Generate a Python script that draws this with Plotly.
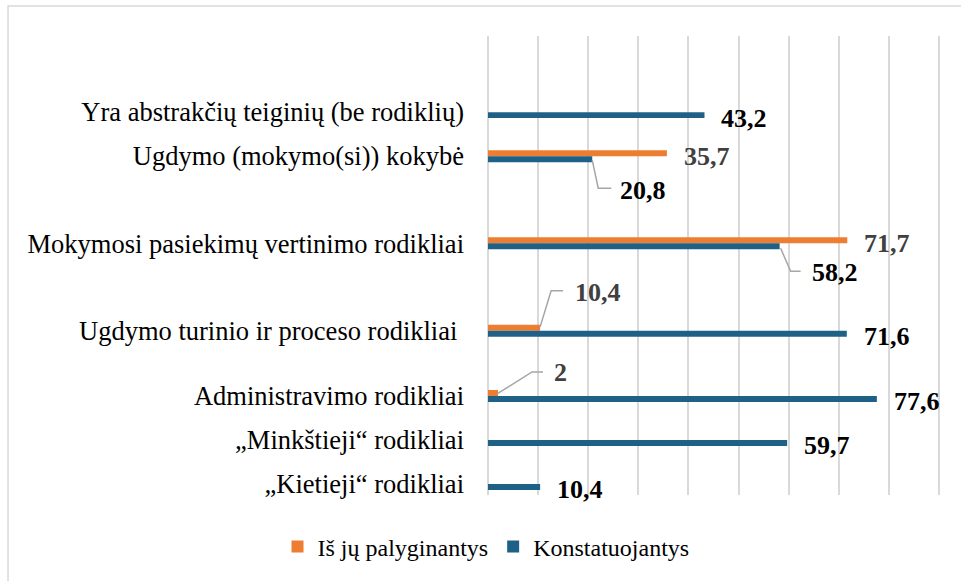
import plotly.graph_objects as go

# --- Data ---
categories = [
    "„Kietieji“ rodikliai",
    "„Minkštieji“ rodikliai",
    "Administravimo rodikliai",
    "Ugdymo turinio ir proceso rodikliai\u00a0",
    "Mokymosi pasiekimų vertinimo rodikliai",
    "Ugdymo (mokymo(si)) kokybė",
    "Yra abstrakčių teiginių (be rodiklių)",
]
palyginantys = [None, None, 2, 10.4, 71.7, 35.7, None]
konstatuojantys = [10.4, 59.7, 77.6, 71.6, 58.2, 20.8, 43.2]
series_names = ["Iš jų palyginantys", "Konstatuojantys"]

# --- Layout constants ---
# row slots on the category axis (the source chart has uneven gaps)
row_pos = [0, 1, 2, 3.48, 5.47, 7.45, 8.45]
BAR_W = 0.136
X_RANGE = [-0.6, 90.6]
Y_RANGE = [-0.25, 10.18]
PX_X = 451 / 90                       # pixels per value unit
ML = 488 + X_RANGE[0] * PX_X          # so that 0 lands at x=488
MR = 961 - (488 + X_RANGE[1] * PX_X)  # and 90 at x=939
MT, MB = 36, 86
W, H = 961, 581
PX_Y = (H - MT - MB) / (Y_RANGE[1] - Y_RANGE[0])   # pixels per row unit
PLOT_W = W - ML - MR
PLOT_H = H - MT - MB

ORANGE = "#ED7D31"
BLUE = "#1F6186"
FONT = "Liberation Serif"


def fmt(v):
    return f"{v:g}".replace(".", ",")


fig = go.Figure()

# orange bar sits just above the row slot, blue just below
fig.add_trace(go.Bar(
    name=series_names[0], x=palyginantys, y=row_pos, orientation="h",
    width=BAR_W, offset=0, marker=dict(color=ORANGE, line_width=0),
    hoverinfo="x",
))
fig.add_trace(go.Bar(
    name=series_names[1], x=konstatuojantys, y=row_pos, orientation="h",
    width=BAR_W, offset=-BAR_W, marker=dict(color=BLUE, line_width=0),
    hoverinfo="x",
))

# label placement tweaks (pixel offsets) and leader lines, like the Excel callouts
# key: (series index, row index) -> (xshift, yshift, leader points in px rel. to bar end)
callouts = {
    (1, 5): (26, -31, [(0, 1), (6, 29), (19, 29)]),
    (1, 4): (30, -26, [(1, 2), (11, 25), (21, 25)]),
    (0, 3): (33, 35, [(0, -1), (11, -37), (23, -37)]),
    (0, 2): (54, 20, [(-1, 1), (34, -21), (45, -21)]),
}

annotations = []
for s, (vals, color) in enumerate([(palyginantys, "#404040"), (konstatuojantys, "black")]):
    for i, v in enumerate(vals):
        if v is None:
            continue
        yc = row_pos[i] + (BAR_W / 2 if s == 0 else -BAR_W / 2)
        xs, ys, pts = callouts.get((s, i), (15, -3, None))
        annotations.append(dict(
            x=v, y=yc, xref="x", yref="y", text=fmt(v), showarrow=False,
            xanchor="left", yanchor="middle", xshift=xs, yshift=ys,
            font=dict(family=FONT, size=26, color=color, weight="bold"),
        ))
        if pts:
            fig.add_trace(go.Scatter(
                x=[v + dx / PX_X for dx, dy in pts],
                y=[yc - dy / PX_Y for dx, dy in pts],
                mode="lines", line=dict(color="#A6A6A6", width=1.5),
                hoverinfo="skip", showlegend=False,
            ))

fig.update_layout(
    width=W, height=H,
    margin=dict(l=ML, r=MR, t=MT, b=MB),
    barmode="overlay",
    plot_bgcolor="white", paper_bgcolor="white",
    font=dict(family=FONT, color="black"),
    annotations=annotations,
    showlegend=True,
    legend=dict(
        orientation="h", x=(486 - ML) / PLOT_W, xanchor="center",
        y=-0.113, yanchor="middle",
        font=dict(family=FONT, size=24, color="black"),
        itemwidth=30, traceorder="normal",
    ),
    shapes=[dict(
        type="rect", xref="paper", yref="paper",
        x0=(8 - ML) / PLOT_W, x1=1.2,
        y0=-0.4, y1=(H - MB - 6) / PLOT_H,
        line=dict(color="#D9D9D9", width=1.5), layer="below",
    )],
)

fig.update_xaxes(
    range=X_RANGE, dtick=10, tick0=0, showticklabels=False, showgrid=True,
    gridcolor="#D9D9D9", gridwidth=1.5, zeroline=False, showline=False,
)
fig.update_yaxes(
    range=Y_RANGE, tickvals=row_pos, ticktext=categories, showgrid=False,
    zeroline=False, showline=False, ticks="", ticklabelstandoff=20,
    tickfont=dict(family=FONT, size=26.5, color="black"),
)

# the page body has a default 8px margin; drop it so the figure sits at 0,0
fig.write_html(
    "out.html",
    config={"displayModeBar": False},
    post_script="document.body.style.margin='0px';",
)
